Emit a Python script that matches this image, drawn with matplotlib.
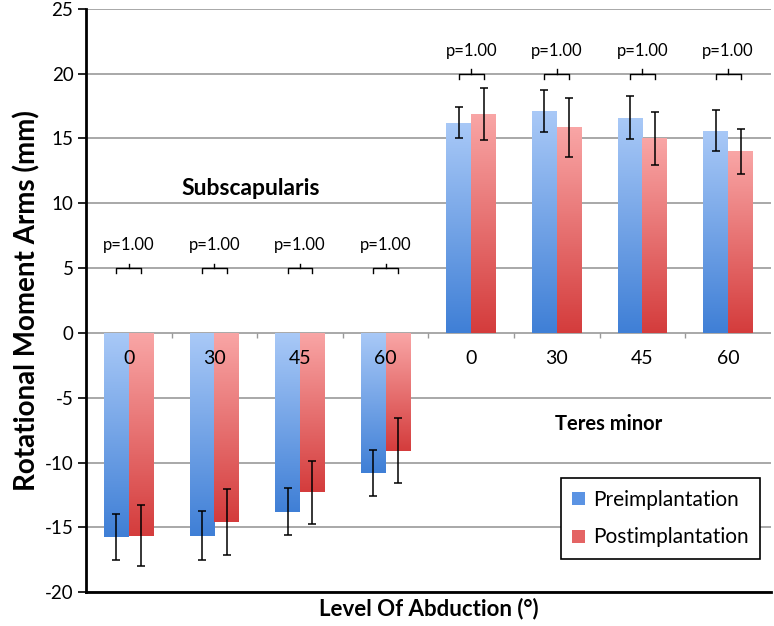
import numpy as np
import matplotlib
matplotlib.use("Agg")
from matplotlib import pyplot as plt
from matplotlib.colors import LinearSegmentedColormap

plt.rcParams['font.family'] = ['Lato', 'DejaVu Sans']
plt.rcParams['axes.unicode_minus'] = False

# data
categories = ['0', '30', '45', '60', '0', '30', '45', '60']
pre = [-15.75, -15.65, -13.8, -10.8, 16.2, 17.1, 16.6, 15.6]
pre_err = [1.8, 1.9, 1.8, 1.75, 1.2, 1.6, 1.65, 1.6]
post = [-15.65, -14.6, -12.3, -9.1, 16.9, 15.85, 15.0, 14.0]
post_err = [2.35, 2.55, 2.45, 2.5, 2.0, 2.25, 2.05, 1.75]
p_labels = ['p=1.00'] * 8
groups = ['Subscapularis', 'Teres minor']

blue_cmap = LinearSegmentedColormap.from_list('b', ['#3f7fd6', '#a9c9f7'])
red_cmap = LinearSegmentedColormap.from_list('r', ['#d43c3c', '#f9a6a6'])

fig = plt.figure(figsize=(7.74, 6.26), dpi=100)
ax = fig.add_axes([0.111, 0.054, 0.885, 0.932])
ax.set_xlim(-0.5, 7.5)
ax.set_ylim(-20, 25)

x = np.arange(len(categories))
w = 0.29
grad = np.linspace(0, 1, 256).reshape(-1, 1)


def gradient_bars(xs, vals, cmap):
    bars = ax.bar(xs, vals, w, color='none', edgecolor='none', zorder=3)
    for b in bars:
        x0, y0 = b.get_x(), b.get_y()
        x1, y1 = x0 + b.get_width(), y0 + b.get_height()
        lo, hi = min(y0, y1), max(y0, y1)
        im = ax.imshow(grad, cmap=cmap, origin='lower', aspect='auto',
                       extent=[x0, x1, lo, hi], zorder=3)
        im.set_clip_path(b)
    return bars


b1 = gradient_bars(x - w / 2, pre, blue_cmap)
b2 = gradient_bars(x + w / 2, post, red_cmap)
ax.errorbar(x - w / 2, pre, yerr=pre_err, fmt='none', ecolor='black',
            elinewidth=1.1, capsize=3, capthick=1.1, zorder=4)
ax.errorbar(x + w / 2, post, yerr=post_err, fmt='none', ecolor='black',
            elinewidth=1.1, capsize=3, capthick=1.1, zorder=4)

# grid and axes styling
ax.set_yticks(np.arange(-20, 26, 5))
ax.yaxis.grid(True, color='#999999', linewidth=1.2, zorder=0)
ax.set_axisbelow(True)
ax.set_xticks([])
for s in ['top', 'right']:
    ax.spines[s].set_visible(False)
ax.spines['left'].set_linewidth(2)
ax.spines['bottom'].set_linewidth(2)
ax.tick_params(axis='y', labelsize=13.5, length=6, width=1.2, color='black', pad=3)

# category boundary ticks on the zero line
bounds = np.arange(len(categories) + 1) - 0.5
ax.vlines(bounds[1:-1], -0.4, 0, color='#999999', linewidth=1, zorder=2)

# category labels inside the plot
for xi, lab in zip(x, categories):
    ax.text(xi, -2.0, lab, ha='center', va='center', fontsize=14, zorder=5)

# p-value brackets
for xi, val, lab in zip(x, pre, p_labels):
    yb = 5 if val < 0 else 20
    xl, xr = xi - w / 2, xi + w / 2
    ax.plot([xl, xl, xr, xr], [yb - 0.4, yb, yb, yb - 0.4], color='black', lw=1, zorder=4)
    ax.plot([xi, xi], [yb, yb + 0.35], color='black', lw=1, zorder=4)
    ax.text(xi, yb + 1.75, lab, ha='center', va='center', fontsize=12)

ax.text(1.43, 11.1, groups[0], ha='center', va='center', fontsize=16.5, fontweight='bold')
ax.text(5.6, -7.0, groups[1], ha='center', va='center', fontsize=14.5, fontweight='bold')

ax.set_ylabel('Rotational Moment Arms (mm)', fontsize=20, fontweight='bold', labelpad=3)
ax.set_xlabel('Level Of Abduction (°)', fontsize=16, fontweight='bold', labelpad=4)

leg = ax.legend([b1, b2], ['Preimplantation', 'Postimplantation'],
                loc='lower left', bbox_to_anchor=(0.693, 0.057), fontsize=15,
                fancybox=False, edgecolor='black', framealpha=1,
                handlelength=0.6, handleheight=0.6, handletextpad=0.4,
                labelspacing=0.85, borderpad=0.55, borderaxespad=0)
leg.get_frame().set_linewidth(1.2)
leg.legend_handles[0].set_facecolor('#5b93e3')
leg.legend_handles[1].set_facecolor('#e46464')

fig.savefig('out.png', dpi=100)
